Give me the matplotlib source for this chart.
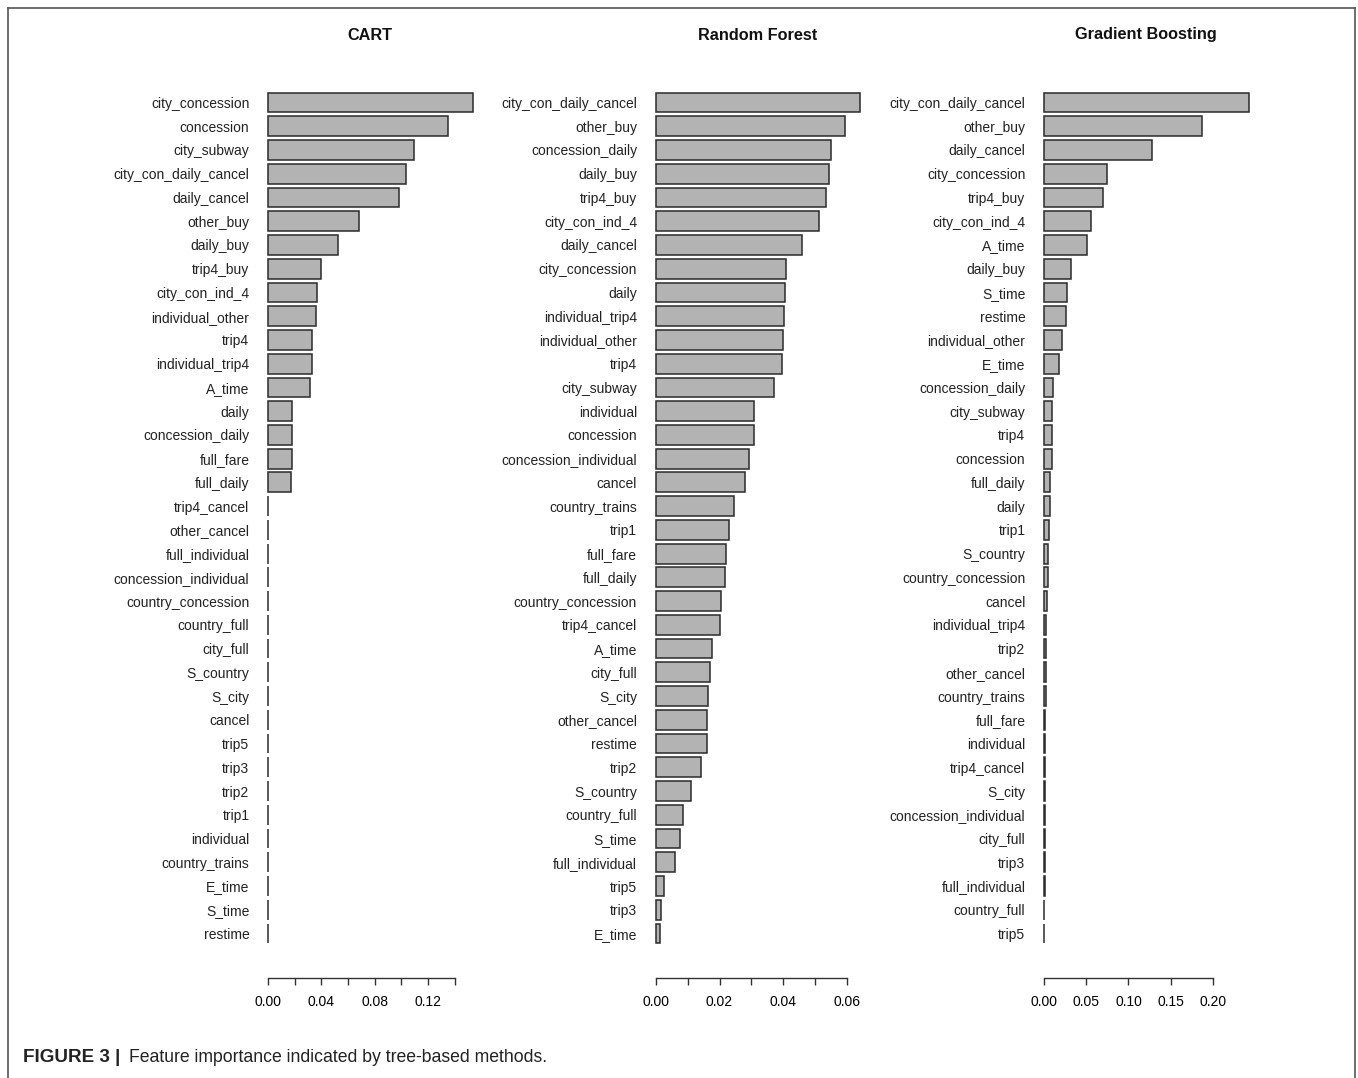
import numpy as np
import matplotlib.pyplot as plt
from matplotlib.lines import Line2D

plt.rcParams['font.family'] = ['Liberation Sans', 'DejaVu Sans']

# --- data ---
cart_features = ["city_concession", "concession", "city_subway", "city_con_daily_cancel",
                 "daily_cancel", "other_buy", "daily_buy", "trip4_buy", "city_con_ind_4",
                 "individual_other", "trip4", "individual_trip4", "A_time", "daily",
                 "concession_daily", "full_fare", "full_daily", "trip4_cancel", "other_cancel",
                 "full_individual", "concession_individual", "country_concession", "country_full",
                 "city_full", "S_country", "S_city", "cancel", "trip5", "trip3", "trip2", "trip1",
                 "individual", "country_trains", "E_time", "S_time", "restime"]
cart_values = [0.1535, 0.1350, 0.1092, 0.1035, 0.0985, 0.0683, 0.0527, 0.0397, 0.0367,
               0.0357, 0.0330, 0.0328, 0.0317, 0.0182, 0.0182, 0.0180, 0.0175,
               0, 0, 0, 0, 0, 0, 0, 0, 0, 0, 0, 0, 0, 0, 0, 0, 0, 0, 0]

rf_features = ["city_con_daily_cancel", "other_buy", "concession_daily", "daily_buy", "trip4_buy",
               "city_con_ind_4", "daily_cancel", "city_concession", "daily", "individual_trip4",
               "individual_other", "trip4", "city_subway", "individual", "concession",
               "concession_individual", "cancel", "country_trains", "trip1", "full_fare",
               "full_daily", "country_concession", "trip4_cancel", "A_time", "city_full", "S_city",
               "other_cancel", "restime", "trip2", "S_country", "country_full", "S_time",
               "full_individual", "trip5", "trip3", "E_time"]
rf_values = [0.0641, 0.0594, 0.0550, 0.0543, 0.0534, 0.0513, 0.0459, 0.0409, 0.0406, 0.0401,
             0.0398, 0.0395, 0.0371, 0.0307, 0.0307, 0.0293, 0.0279, 0.0246, 0.0231, 0.0219,
             0.0218, 0.0206, 0.0200, 0.0175, 0.0171, 0.0164, 0.0161, 0.0160, 0.0142, 0.0112,
             0.0085, 0.0077, 0.0062, 0.0027, 0.0017, 0.0013]

gb_features = ["city_con_daily_cancel", "other_buy", "daily_cancel", "city_concession", "trip4_buy",
               "city_con_ind_4", "A_time", "daily_buy", "S_time", "restime", "individual_other",
               "E_time", "concession_daily", "city_subway", "trip4", "concession", "full_daily",
               "daily", "trip1", "S_country", "country_concession", "cancel", "individual_trip4",
               "trip2", "other_cancel", "country_trains", "full_fare", "individual", "trip4_cancel",
               "S_city", "concession_individual", "city_full", "trip3", "full_individual",
               "country_full", "trip5"]
gb_values = [0.2423, 0.1876, 0.1280, 0.0748, 0.0694, 0.0559, 0.0512, 0.0323, 0.0272, 0.0260,
             0.0216, 0.0181, 0.0110, 0.0098, 0.0091, 0.0090, 0.0071, 0.0067, 0.0059, 0.0047,
             0.0043, 0.0035, 0.0028, 0.0024, 0.0018, 0.0018, 0.0016, 0.0015, 0.0013, 0.0012,
             0.0009, 0.0008, 0.0007, 0.0006, 0.0005, 0.0004]

titles = ["CART", "Random Forest", "Gradient Boosting"]
cart_ticks = [0.00, 0.02, 0.04, 0.06, 0.08, 0.10, 0.12, 0.14]
cart_ticklabels = ["0.00", "", "0.04", "", "0.08", "", "0.12", ""]
rf_ticks = [0.00, 0.01, 0.02, 0.03, 0.04, 0.05, 0.06]
rf_ticklabels = ["0.00", "", "0.02", "", "0.04", "", "0.06"]
gb_ticks = [0.00, 0.05, 0.10, 0.15, 0.20]
gb_ticklabels = ["0.00", "0.05", "0.10", "0.15", "0.20"]

W, H = 1358, 1078
fig = plt.figure(figsize=(W / 100, H / 100), dpi=100)

panels = [(titles[0], cart_features, cart_values, cart_ticks, cart_ticklabels, 268),
          (titles[1], rf_features, rf_values, rf_ticks, rf_ticklabels, 655.7),
          (titles[2], gb_features, gb_values, gb_ticks, gb_ticklabels, 1044)]

plot_w = 221  # plot region width in px (R style: xlim = range * 1.08)
top_px, bot_px = 80, 960
pitch = (933.5 - 102.5) / 35

for title, feats, vals, ticks, tlabels, zero_px in panels:
    left_px = zero_px - plot_w * 0.04 / 1.08
    ax = fig.add_axes([left_px / W, 1 - bot_px / H, plot_w / W, (bot_px - top_px) / H])
    m = max(vals)
    y = np.arange(len(feats))
    ax.barh(y, vals, height=1 / 1.2, color='#b3b3b3', edgecolor='#2b2b2b', linewidth=1.1)
    ax.set_xlim(-0.04 * m, 1.04 * m)
    ax.set_ylim(35 + (bot_px - 933.5) / pitch, -(102.5 - top_px) / pitch)
    ax.set_yticks(y)
    ax.set_yticklabels(feats, fontsize=10, color='#222222')
    ax.tick_params(axis='y', length=0, pad=7.5)
    ax.set_xticks(ticks)
    ax.set_xticklabels(tlabels, fontsize=10, color='#222222')
    ax.tick_params(axis='x', length=5, width=1.0, color='#333333', pad=7)
    for s in ['left', 'top', 'right']:
        ax.spines[s].set_visible(False)
    ax.spines['bottom'].set_position(('outward', 13))
    ax.spines['bottom'].set_bounds(ticks[0], ticks[-1])
    ax.spines['bottom'].set_color('#333333')
    ax.spines['bottom'].set_linewidth(1.0)
    fig.text((left_px + plot_w / 2) / W, 1 - 35 / H, title, ha='center', va='center',
             fontsize=11.7, fontweight='bold', color='#111111')

# caption and frame
fig.text(23 / W, 1 - 1058 / H, "FIGURE 3 |", fontsize=13.6, fontweight='bold',
         va='center', ha='left', color='#222222')
fig.text(129 / W, 1 - 1058 / H, "Feature importance indicated by tree-based methods.",
         fontsize=12.7, va='center', ha='left', color='#222222')

frame = dict(transform=fig.transFigure, color='#555555', linewidth=1.2)
fig.add_artist(Line2D([8 / W, 8 / W], [0, 1 - 8 / H], **frame))
fig.add_artist(Line2D([8 / W, 1355 / W], [1 - 8 / H, 1 - 8 / H], **frame))
fig.add_artist(Line2D([1355 / W, 1355 / W], [0, 1 - 8 / H], **frame))

fig.savefig("out.png", dpi=100)
